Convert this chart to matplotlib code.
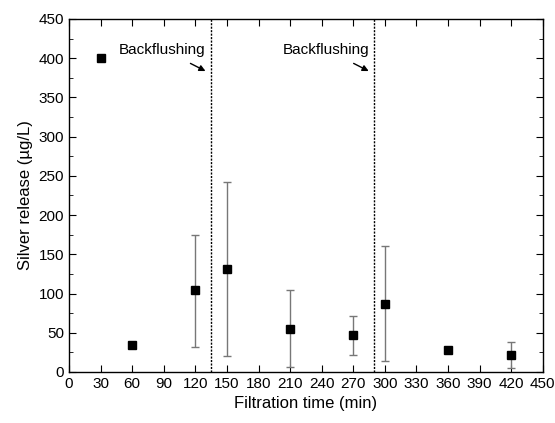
import matplotlib
matplotlib.use("Agg")
import matplotlib.pyplot as plt
from matplotlib.ticker import MultipleLocator

# Data
time_min = [30, 60, 120, 150, 210, 270, 300, 360, 420]
silver = [400, 34, 104, 131, 55, 47, 87, 28, 22]
err_low = [0, 0, 72, 111, 49, 25, 73, 0, 17]
err_high = [0, 0, 71, 111, 49, 25, 73, 0, 16]
backflush_times = [135, 290]

plt.rcParams["font.family"] = ["Liberation Sans", "DejaVu Sans"]
plt.rcParams["axes.linewidth"] = 1.0

fig = plt.figure(figsize=(5.55, 4.23), dpi=100)
ax = fig.add_axes([0.1243, 0.1206, 0.8537, 0.8345])

ax.errorbar(time_min, silver, yerr=[err_low, err_high], fmt="s", color="black",
            markersize=6, ecolor="#777777", elinewidth=1.0, capsize=3, capthick=1.0, zorder=3)

for t in backflush_times:
    ax.axvline(t, color="black", linestyle=(0, (1.5, 1)), linewidth=1.0)
    ax.annotate("", xy=(t - 3, 382), xytext=(t - 22, 395),
                arrowprops=dict(arrowstyle="-|>", color="black", lw=1.0, mutation_scale=9))
    ax.text(t - 5, 411, "Backflushing", ha="right", va="center", fontsize=11)

ax.set_xlim(0, 450)
ax.set_ylim(0, 450)
ax.xaxis.set_major_locator(MultipleLocator(30))
ax.yaxis.set_major_locator(MultipleLocator(50))
ax.yaxis.set_minor_locator(MultipleLocator(25))
ax.tick_params(which="both", direction="in", top=True, right=True, labelsize=11)
ax.tick_params(which="major", length=5)
ax.tick_params(which="minor", length=3)

ax.set_xlabel("Filtration time (min)", fontsize=12)
ax.set_ylabel("Silver release (\u00b5g/L)", fontsize=12)

fig.savefig("out.png", dpi=100)
